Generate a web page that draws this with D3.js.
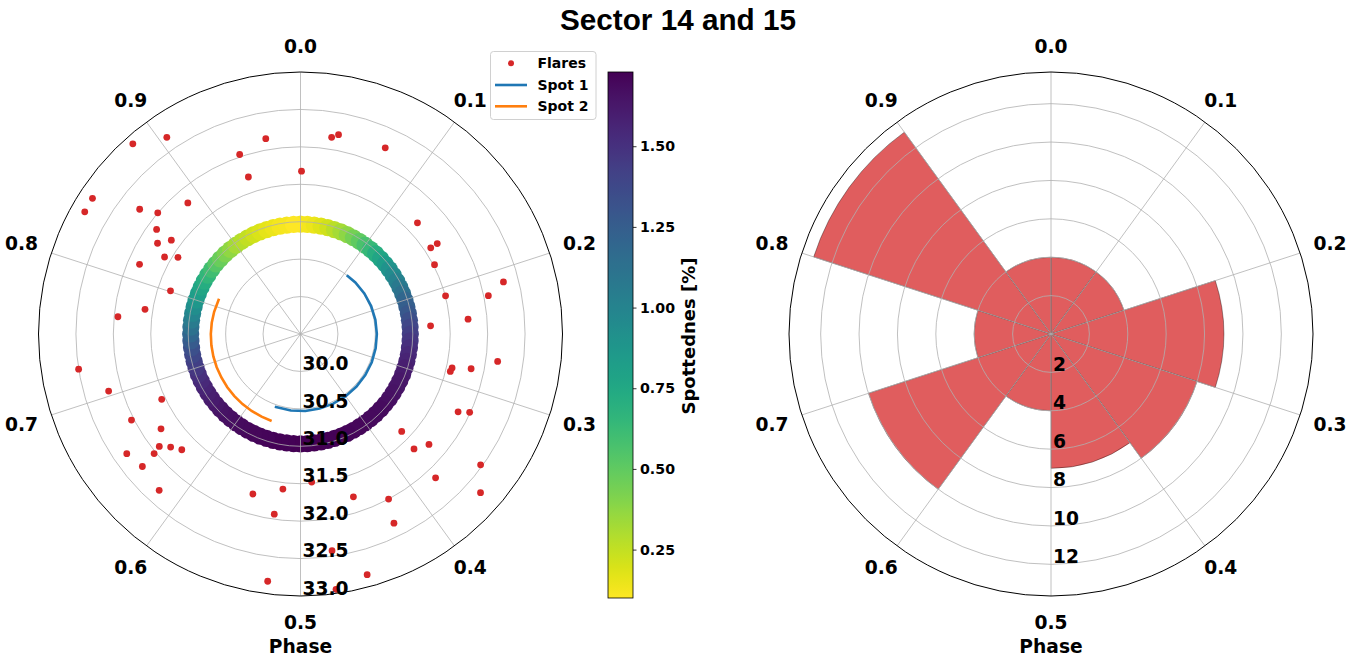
<!DOCTYPE html>
<html><head><meta charset="utf-8">
<script src="https://cdn.jsdelivr.net/npm/d3@7"></script>
<style>
body{margin:0;background:#fff;}
svg{display:block;}
text{font-family:"DejaVu Sans",sans-serif;font-weight:bold;fill:#000;}
</style></head>
<body><svg id="chart" width="1364" height="659"></svg>
<script>
// ---------------- DATA ----------------
const titleText = "Sector 14 and 15";
const phaseTickLabels = ["0.0","0.1","0.2","0.3","0.4","0.5","0.6","0.7","0.8","0.9"];
const phaseTicks = [0.0,0.1,0.2,0.3,0.4,0.5,0.6,0.7,0.8,0.9];
const leftRadialTicks = [30.0,30.5,31.0,31.5,32.0,32.5,33.0];
const rightRadialTicks = [2,4,6,8,10,12];
const colorbarTicks = [0.25,0.50,0.75,1.00,1.25,1.50];

// spottedness ring (phase, spottedness %), all at the same radius
const ringRadius = 30.967;
const ringPhase = [0.00,0.01,0.02,0.03,0.04,0.05,0.06,0.07,0.08,0.09,
  0.10,0.11,0.12,0.13,0.14,0.15,0.16,0.17,0.18,0.19,
  0.20,0.21,0.22,0.23,0.24,0.25,0.26,0.27,0.28,0.29,
  0.30,0.31,0.32,0.33,0.34,0.35,0.36,0.37,0.38,0.39,
  0.40,0.41,0.42,0.43,0.44,0.45,0.46,0.47,0.48,0.49,
  0.50,0.51,0.52,0.53,0.54,0.55,0.56,0.57,0.58,0.59,
  0.60,0.61,0.62,0.63,0.64,0.65,0.66,0.67,0.68,0.69,
  0.70,0.71,0.72,0.73,0.74,0.75,0.76,0.77,0.78,0.79,
  0.80,0.81,0.82,0.83,0.84,0.85,0.86,0.87,0.88,0.89,
  0.90,0.91,0.92,0.93,0.94,0.95,0.96,0.97,0.98,0.99];
const ringSpot = [0.12,0.13,0.15,0.18,0.22,0.27,0.32,0.38,0.44,0.50,
  0.57,0.64,0.71,0.77,0.83,0.89,0.95,1.01,1.07,1.13,
  1.19,1.24,1.29,1.34,1.39,1.43,1.47,1.51,1.54,1.57,
  1.59,1.61,1.63,1.64,1.65,1.66,1.67,1.68,1.68,1.69,
  1.69,1.70,1.70,1.71,1.71,1.72,1.72,1.72,1.73,1.73,
  1.73,1.73,1.72,1.72,1.72,1.71,1.71,1.70,1.70,1.69,
  1.68,1.67,1.66,1.65,1.63,1.61,1.59,1.57,1.54,1.51,
  1.47,1.43,1.38,1.33,1.27,1.20,1.13,1.06,0.99,0.93,
  0.87,0.82,0.77,0.72,0.66,0.60,0.53,0.47,0.42,0.37,
  0.32,0.28,0.25,0.22,0.19,0.17,0.15,0.13,0.12,0.10];

// flares
const flarePhase = [0.885,0.905,0.972,0.948,0.949,0.001,0.842,0.832,0.855,0.862,
  0.887,0.850,0.840,0.850,0.832,0.839,0.815,0.801,0.775,0.765,
  0.025,0.030,0.068,0.129,0.157,0.157,0.174,0.210,0.209,0.218,
  0.236,0.240,0.725,0.704,0.680,0.675,0.655,0.643,0.636,0.627,
  0.654,0.641,0.639,0.617,0.546,0.518,0.523,0.521,0.272,0.285,
  0.289,0.282,0.323,0.319,0.372,0.363,0.376,0.350,0.380,0.365,
  0.488,0.450,0.422,0.427,0.477,0.457,0.478];
const flareRadius = [32.887,32.677,32.150,32.032,31.710,31.675,32.818,32.812,32.219,32.001,
  31.809,31.876,31.762,31.633,31.587,31.431,31.843,31.330,31.603,31.950,
  32.160,32.211,32.232,31.656,31.586,31.690,31.516,32.299,31.504,32.061,
  31.747,31.241,32.501,32.174,31.549,32.034,31.753,31.911,31.800,31.715,
  32.318,32.025,32.256,32.315,31.730,31.585,31.932,32.832,32.159,31.575,
  31.563,31.826,31.848,31.990,31.377,31.763,31.658,32.474,32.136,32.706,
  31.484,31.787,32.000,32.319,32.425,32.836,32.944];

// spots
const spot1Phase = [0.106,0.13,0.16,0.19,0.22,0.25,0.28,0.31,0.34,0.37,0.40,0.43,0.46,0.49,0.52,0.554];
const spot1Radius = [30.500,30.505,30.510,30.515,30.518,30.520,30.522,30.524,30.525,30.526,30.527,30.528,30.529,30.530,30.531,30.532];
const spot2Phase = [0.551,0.57,0.59,0.61,0.63,0.65,0.67,0.69,0.71,0.73,0.75,0.77,0.79,0.815];
const spot2Radius = [30.724,30.721,30.718,30.715,30.712,30.709,30.706,30.704,30.702,30.700,30.698,30.695,30.691,30.686];

// histogram of flare phases
const histBinStart = [0.0,0.1,0.2,0.3,0.4,0.5,0.6,0.7,0.8,0.9];
const histBinWidth = 0.1;
const histCount = [4,4,9,8,7,4,10,4,13,4];

// ---------------- DRAWING ----------------
const svg = d3.select("#chart");
const TAU = 2*Math.PI;
const R = 262;
const cy = 334;
const left = {cx:300.5, cy:cy};
const right = {cx:1051, cy:cy};
const rL = d3.scaleLinear().domain([29.5, 33.0]).range([0, R]);
const rR = d3.scaleLinear().domain([0, 13.65]).range([0, R]);
const ang = d3.scaleLinear().domain([0,1]).range([0, TAU]);
const cbMin = 0.10, cbMax = 1.73;
const color = d3.scaleSequential(d3.interpolateViridis).domain([cbMax, cbMin]);

function pol(a, r){ return [r*Math.sin(a), -r*Math.cos(a)]; }

svg.append("text").attr("x",678).attr("y",29.5)
  .attr("text-anchor","middle")
  .style("font-family","'Liberation Sans', Arial, sans-serif")
  .style("font-size","29.7px").text(titleText);

function frame(g, rScale, ticks){
  g.append("g").selectAll("circle").data(ticks.filter(t=>rScale(t)<R-1)).join("circle")
    .attr("r", d=>rScale(d)).attr("fill","none").attr("stroke","#b0b0b0").attr("stroke-width",0.8);
  g.append("g").selectAll("line").data(phaseTicks).join("line")
    .attr("x1",0).attr("y1",0)
    .attr("x2",d=>pol(ang(d),R)[0]).attr("y2",d=>pol(ang(d),R)[1])
    .attr("stroke","#b0b0b0").attr("stroke-width",0.8);
}
function decorations(g, rScale, ticks, fmt){
  g.append("circle").attr("r",R).attr("fill","none").attr("stroke","#000").attr("stroke-width",1);
  g.append("g").selectAll("text").data(phaseTicks).join("text")
    .attr("text-anchor","middle").style("font-size","18.67px")
    .attr("x", (d)=>{const a=ang(d); const s=Math.pow(Math.sin(a),4); return pol(a,288+6.5*s)[0];})
    .attr("y", (d)=>{const a=ang(d); const s=Math.pow(Math.sin(a),4); return pol(a,288+6.5*s)[1]+6.7;})
    .text((d,i)=>phaseTickLabels[i]);
  g.append("g").selectAll("text").data(ticks).join("text")
    .attr("x",2).attr("y",d=>rScale(d)-1.3)
    .style("font-size","18.67px").text(fmt);
  g.append("text").attr("x",0).attr("y",652.5-cy).attr("text-anchor","middle")
    .style("font-size","18.67px").text("Phase");
}

// LEFT
const gL = svg.append("g").attr("transform",`translate(${left.cx},${left.cy})`);
const ringData = ringPhase.map((p,i)=>({p, s:ringSpot[i]}));
gL.append("g").selectAll("circle").data(ringData).join("circle")
  .attr("cx",d=>pol(ang(d.p), rL(ringRadius))[0])
  .attr("cy",d=>pol(ang(d.p), rL(ringRadius))[1])
  .attr("r",8.6).attr("fill",d=>color(d.s));
frame(gL, rL, leftRadialTicks);
const lineR = d3.lineRadial().angle(d=>ang(d[0])).radius(d=>rL(d[1]));
gL.append("path").attr("d", lineR(spot1Phase.map((p,i)=>[p,spot1Radius[i]])))
  .attr("fill","none").attr("stroke","#1f77b4").attr("stroke-width",2.6);
gL.append("path").attr("d", lineR(spot2Phase.map((p,i)=>[p,spot2Radius[i]])))
  .attr("fill","none").attr("stroke","#ff7f0e").attr("stroke-width",2.6);
gL.append("g").selectAll("circle").data(flarePhase.map((p,i)=>[p,flareRadius[i]])).join("circle")
  .attr("cx",d=>pol(ang(d[0]),rL(d[1]))[0])
  .attr("cy",d=>pol(ang(d[0]),rL(d[1]))[1])
  .attr("r",3.4).attr("fill","#d62728");
decorations(gL, rL, leftRadialTicks, d=>d.toFixed(1));

// RIGHT
const gR = svg.append("g").attr("transform",`translate(${right.cx},${right.cy})`);
const arc = d3.arc().innerRadius(0);
gR.append("g").selectAll("path").data(histBinStart.map((b,i)=>({b, c:histCount[i]}))).join("path")
  .attr("d", d=>arc({startAngle:ang(d.b), endAngle:ang(d.b+histBinWidth), outerRadius:rR(d.c)}))
  .attr("fill","#e05d5e").attr("stroke","rgba(0,0,0,0.6)").attr("stroke-width",0.6);
frame(gR, rR, rightRadialTicks);
decorations(gR, rR, rightRadialTicks, d=>String(d));

// LEGEND
const lg = svg.append("g");
lg.append("rect").attr("x",490.5).attr("y",51.5).attr("width",105.5).attr("height",68)
  .attr("rx",3).attr("fill","rgba(255,255,255,0.8)").attr("stroke","#d0d0d0").attr("stroke-width",1);
const legendItems = ["Flares","Spot 1","Spot 2"];
const legendY = [63.3,85,106.3];
lg.append("circle").attr("cx",511).attr("cy",legendY[0]).attr("r",3).attr("fill","#d62728");
lg.append("line").attr("x1",495).attr("x2",527).attr("y1",legendY[1]).attr("y2",legendY[1]).attr("stroke","#1f77b4").attr("stroke-width",2.6);
lg.append("line").attr("x1",495).attr("x2",527).attr("y1",legendY[2]).attr("y2",legendY[2]).attr("stroke","#ff7f0e").attr("stroke-width",2.6);
lg.selectAll("text.li").data(legendItems).join("text").attr("class","li")
  .attr("x",537.5).attr("y",(d,i)=>legendY[i]+5).style("font-size","14px").text(d=>d);

// COLORBAR
const cbX = 608, cbW = 25, cbTop = 72, cbBot = 598;
const cbScale = d3.scaleLinear().domain([cbMin, cbMax]).range([cbBot, cbTop]);
const defs = svg.append("defs");
const grad = defs.append("linearGradient").attr("id","cbgrad").attr("x1",0).attr("x2",0).attr("y1",1).attr("y2",0);
d3.range(0,1.0001,0.02).forEach(t=>{
  grad.append("stop").attr("offset",t).attr("stop-color", color(cbMin + t*(cbMax-cbMin)));
});
svg.append("rect").attr("x",cbX).attr("y",cbTop).attr("width",cbW).attr("height",cbBot-cbTop)
  .attr("fill","url(#cbgrad)").attr("stroke","#000").attr("stroke-width",0.8);
const cbAxis = svg.append("g").attr("transform",`translate(${cbX+cbW},0)`)
  .call(d3.axisRight(cbScale).tickValues(colorbarTicks).tickFormat(d3.format(".2f")).tickSize(3.5).tickPadding(3.5));
cbAxis.select(".domain").remove();
cbAxis.selectAll("text").style("font-family","'DejaVu Sans',sans-serif").style("font-weight","bold").style("font-size","14.2px");
cbAxis.selectAll("line").attr("stroke","#000").attr("stroke-width",0.8);
svg.append("text").attr("transform",`translate(695,336) rotate(-90)`).attr("text-anchor","middle")
  .style("font-size","18px").text("Spottednes [%]");
</script>
</body></html>
